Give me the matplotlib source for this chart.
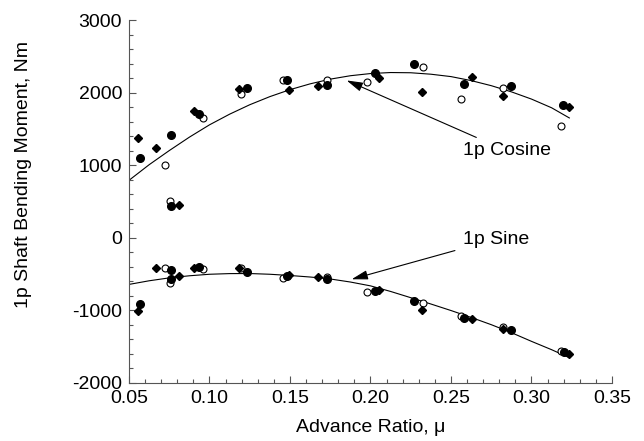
import matplotlib.pyplot as plt
from matplotlib.ticker import MultipleLocator

# filled circles
mu_filled = [0.057, 0.076, 0.076, 0.0935, 0.123, 0.148, 0.173, 0.2025, 0.227, 0.258, 0.2875, 0.3195]
cos_filled = [1100, 1410, 430, 1710, 2065, 2175, 2100, 2275, 2395, 2120, 2090, 1825]
mu_filled_sin = [0.057, 0.076, 0.076, 0.0935, 0.123, 0.148, 0.173, 0.2025, 0.227, 0.258, 0.2875, 0.3202]
sin_filled = [-910, -450, -570, -405, -475, -525, -575, -740, -875, -1105, -1275, -1575]

# open circles
mu_open = [0.0722, 0.0757, 0.0958, 0.1197, 0.1455, 0.1728, 0.198, 0.2324, 0.2562, 0.2825, 0.3185]
cos_open = [1005, 510, 1645, 1985, 2175, 2175, 2150, 2350, 1910, 2065, 1545]
sin_open = [-413, -620, -427, -423, -556, -543, -749, -900, -1080, -1231, -1562]

# diamonds
mu_diamond = [0.0558, 0.0668, 0.0811, 0.0904, 0.1185, 0.1492, 0.1676, 0.2051, 0.232, 0.2629, 0.2825, 0.3235]
cos_diamond = [1370, 1240, 450, 1745, 2055, 2040, 2085, 2195, 2005, 2210, 1950, 1800]
sin_diamond = [-1005, -423, -529, -419, -413, -510, -543, -726, -1001, -1116, -1253, -1598]

# fitted curves
mu_curve = [0.05, 0.0625, 0.075, 0.0875, 0.10, 0.1125, 0.125, 0.1375, 0.15, 0.1625, 0.175, 0.1875,
            0.20, 0.2125, 0.225, 0.2375, 0.25, 0.2625, 0.275, 0.2875, 0.30, 0.3125, 0.3235]
cos_curve = [790, 1005, 1200, 1385, 1555, 1702, 1832, 1944, 2040, 2120, 2185, 2232,
             2262, 2276, 2273, 2253, 2220, 2165, 2095, 2010, 1910, 1790, 1650]
sin_curve = [-645, -595, -555, -526, -505, -496, -495, -505, -522, -543, -570, -612,
             -665, -742, -828, -915, -1005, -1100, -1200, -1310, -1430, -1545, -1655]


def main():
    plt.rcParams["font.family"] = ["Liberation Sans", "DejaVu Sans"]
    plt.rcParams["font.size"] = 14
    plt.rcParams["axes.unicode_minus"] = False

    figure = plt.figure(figsize=(6.44, 4.41), dpi=100)
    axes = figure.add_axes([0.2003, 0.1322, 0.75, 0.8224])

    line_kw = dict(color="black", linewidth=0.8)
    axes.plot(mu_curve, cos_curve, **line_kw)
    axes.plot(mu_curve, sin_curve, **line_kw)

    ms = 5
    for y_filled, y_open, y_diamond, mu_f in [
        (cos_filled, cos_open, cos_diamond, mu_filled),
        (sin_filled, sin_open, sin_diamond, mu_filled_sin),
    ]:
        axes.plot(mu_open, y_open, "o", ms=ms, mfc="white", mec="black", mew=0.8, ls="none")
        axes.plot(mu_diamond, y_diamond, "D", ms=ms - 0.5, color="black", ls="none")
        axes.plot(mu_f, y_filled, "o", ms=ms + 0.5, color="black", ls="none")

    arrow = dict(arrowstyle="-|>,head_length=0.7,head_width=0.2", color="black",
                 linewidth=0.8, mutation_scale=14, shrinkA=4, shrinkB=0)
    axes.annotate("1p Cosine", xy=(0.1852, 2167), xytext=(0.2575, 1195),
                  ha="left", va="center", arrowprops=arrow)
    axes.annotate("1p Sine", xy=(0.1883, -574), xytext=(0.2575, -20),
                  ha="left", va="center", arrowprops=arrow)

    axes.set_xlim(0.05, 0.35)
    axes.set_ylim(-2000, 3000)
    axes.xaxis.set_major_locator(MultipleLocator(0.05))
    axes.xaxis.set_minor_locator(MultipleLocator(0.01))
    axes.yaxis.set_major_locator(MultipleLocator(1000))
    axes.yaxis.set_minor_locator(MultipleLocator(200))
    axes.xaxis.set_major_formatter(plt.FuncFormatter(lambda v, _: f"{v:.2f}"))
    axes.yaxis.set_major_formatter(plt.FuncFormatter(lambda v, _: f"{v:.0f}"))

    for side in ["top", "right"]:
        axes.spines[side].set_visible(False)
    for side in ["left", "bottom"]:
        axes.spines[side].set_color("#555555")
        axes.spines[side].set_linewidth(0.8)
    axes.tick_params(which="both", direction="in", color="#555555", width=0.8, labelsize=14)
    axes.tick_params(which="major", length=5, pad=5)
    axes.tick_params(which="minor", length=3)

    axes.set_xlabel("Advance Ratio, \u03bc", fontsize=14, labelpad=9)
    axes.set_ylabel("1p Shaft Bending Moment, Nm", fontsize=14)
    axes.yaxis.set_label_coords(-0.2, 0.575)

    figure.savefig("out.png", dpi=100)


if __name__ == "__main__":
    main()
